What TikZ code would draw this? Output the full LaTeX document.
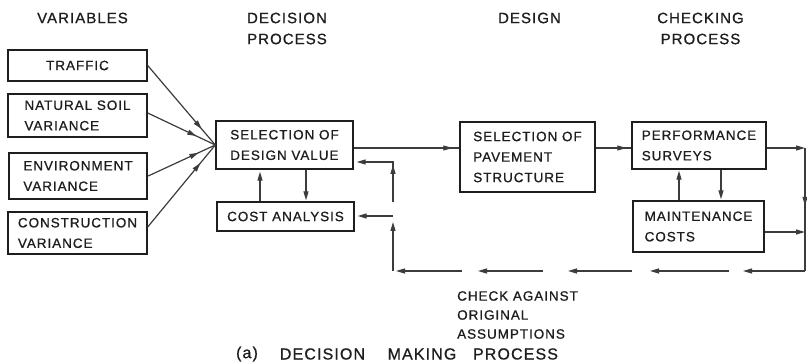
\documentclass[tikz,border=0pt]{standalone}
\usepackage{fontspec}
\setmainfont{Liberation Sans}[LetterSpace=7, FakeBold=0.8]
\usetikzlibrary{arrows.meta,decorations.markings,calc}
\definecolor{ink}{HTML}{1E1E1E}
\definecolor{wirec}{HTML}{3C3C3C}
\begin{document}
\begin{tikzpicture}[x=1pt,y=-1pt,
  box/.style={draw=ink, line width=1.4pt, inner sep=0pt, align=left, text=ink,
    font=\fontsize{13.5}{20.5}\selectfont},
  head/.style={align=center, inner sep=0pt, text=ink, font=\fontsize{15}{21}\selectfont},
  note/.style={align=left, inner sep=0pt, text=ink, font=\fontsize{13.5}{19}\selectfont},
  capt/.style={inner sep=0pt, text=ink, font=\fontsize{16}{18}\selectfont},
  wire/.style={color=wirec, line width=1.2pt},
  tip/.style={-{Triangle[length=9pt,width=5pt]}},
  headat/.style={postaction={decorate}, decoration={markings,
    mark=at position #1 with {\arrow{Triangle[length=9pt,width=5pt]}}}},
]
\useasboundingbox (0,0) rectangle (807,363);
\fill[white] (0,0) rectangle (807,363);

% headers
\node[head] (hvar) at (82.5,18) {VARIABLES};
\node[head] (hdec) at (287,28.5) {DECISION\\PROCESS};
\node[head] (hdes) at (529.5,18) {DESIGN};
\node[head] (hchk) at (700.5,28.5) {CHECKING\\PROCESS};

% variable boxes
\node[box, minimum width=139pt, minimum height=31pt] (traffic) at (77.5,65.5) {TRAFFIC};
\node[box, minimum width=139pt, minimum height=43pt] (soil) at (77.5,115.5) {NATURAL SOIL\\VARIANCE};
\node[box, line width=2.3pt, minimum width=138pt, minimum height=46pt] (env) at (78,176) {ENVIRONMENT\\VARIANCE};
\node[box, minimum width=139pt, minimum height=42pt] (constr) at (77.5,233) {CONSTRUCTION\\VARIANCE};

% decision process
\node[box, minimum width=137pt, minimum height=48pt] (sdv) at (284.5,145) {SELECTION OF\\DESIGN VALUE};
\node[box, minimum width=137pt, minimum height=29pt] (cost) at (285.5,216.5) {COST ANALYSIS};

% design
\node[box, minimum width=135pt, minimum height=70pt] (pave) at (527.5,157) {SELECTION OF\\PAVEMENT\\STRUCTURE};

% checking process
\node[box, minimum width=134pt, minimum height=47pt] (perf) at (699,145.5) {PERFORMANCE\\SURVEYS};
\node[box, minimum width=131pt, minimum height=51pt] (maint) at (698.5,226.5) {MAINTENANCE\\COSTS};

% converging arrows
\draw[wire, headat=0.8] (traffic.east) -- (sdv.west);
\draw[wire, headat=0.72] ($(soil.east)+(0,-2.5)$) -- (sdv.west);
\draw[wire, headat=0.75] (env.east) -- (sdv.west);
\draw[wire, headat=0.78] ($(constr.east)+(0,-6)$) -- (sdv.west);

% sdv <-> cost
\draw[wire, tip, shorten >=2pt] (cost.north -| 260,0) -- (sdv.south -| 260,0);
\draw[wire, tip, shorten >=1pt] (sdv.south -| 306,0) -- (cost.north -| 306,0);

% main flow
\coordinate (s1) at ($(sdv.east)+(0,3)$);
\draw[wire, headat=-7pt] (s1) -- (s1 -| pave.west);
\coordinate (s2) at ($(pave.east)+(0,-9)$);
\draw[wire, headat=-5pt] (s2) -- (s2 -| perf.west);

% perf <-> maint
\draw[wire, tip, shorten >=1pt] (maint.north -| 679,0) -- (perf.south -| 679,0);
\draw[wire, tip, shorten >=1pt] (perf.south -| 721,0) -- (maint.north -| 721,0);

% right side
\coordinate (rtop) at (805,148);
\coordinate (rmid) at (805,232);
\coordinate (rbot) at (805,271);
\draw[wire, tip] ($(perf.east)+(0,2.5)$) -- (rtop);
\draw[wire, tip] ($(maint.east)+(0,5.5)$) -- (rmid);
\draw[wire, headat=0.47] (rtop) -- (rbot);

% return line (broken)
\foreach \i/\a/\b in {1/805/743, 2/729/650, 3/632/568, 4/543/478, 5/462/396}{
  \coordinate (ra\i) at (\a,271);
  \coordinate (rb\i) at (\b,271);
  \draw[wire, tip] (ra\i) -- (rb\i);
}
\coordinate (lbot) at (393,271);
\coordinate (llow) at (393,222);
\coordinate (lmid) at (393,216);
\coordinate (lup) at (393,202);
\coordinate (ltop) at (393,162);
\draw[wire, tip] (lbot) -- (llow);
\draw[wire, tip, shorten >=3pt] (lmid) -- (lmid -| cost.east);
\draw[wire, headat=37pt, tip, shorten >=3pt] (lup) -- (ltop) -- (ltop -| sdv.east);

% note and caption
\node[note, anchor=west] (chk) at (457,315) {CHECK AGAINST\\ORIGINAL\\ASSUMPTIONS};
\node[capt] (c1) at (247,354) {(a)};
\node[capt] (c2) at (322.5,354) {DECISION};
\node[capt] (c3) at (422,354) {MAKING};
\node[capt] (c4) at (515.5,354) {PROCESS};
\end{tikzpicture}
\end{document}
